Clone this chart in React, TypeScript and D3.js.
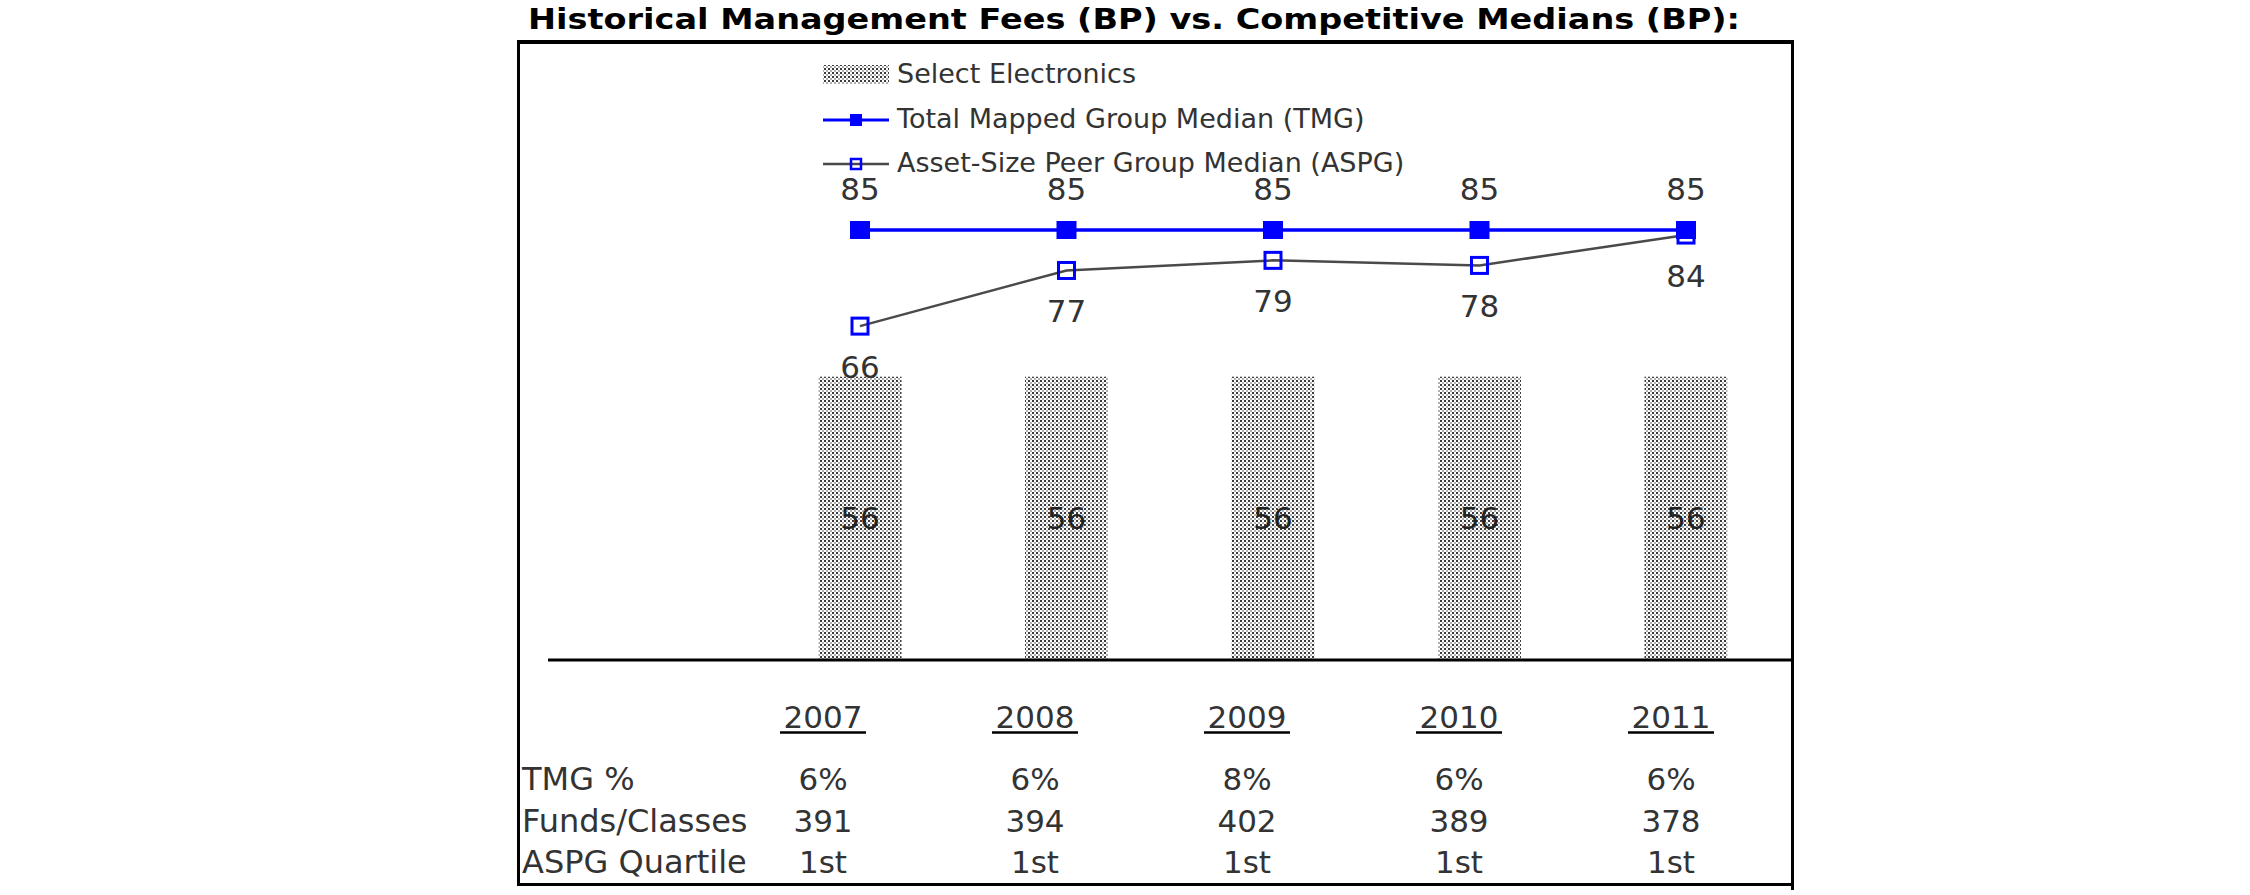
import React from "react";
import * as d3 from "d3";

const years = ["2007", "2008", "2009", "2010", "2011"];
const selectElectronics = [56, 56, 56, 56, 56];
const tmgMedian = [85, 85, 85, 85, 85];
const aspgMedian = [66, 77, 79, 78, 84];
const tmgPct = ["6%", "6%", "8%", "6%", "6%"];
const fundsClasses = ["391", "394", "402", "389", "378"];
const aspgQuartile = ["1st", "1st", "1st", "1st", "1st"];
const rowLabels = ["TMG %", "Funds/Classes", "ASPG Quartile"];
const legendLabels = [
  "Select Electronics",
  "Total Mapped Group Median (TMG)",
  "Asset-Size Peer Group Median (ASPG)",
];
const title = "Historical Management Fees (BP) vs. Competitive Medians (BP):";

const W = 2250;
const H = 895;
const FONT = "'DejaVu Sans', Verdana, sans-serif";
const BLUE = "#0000ff";
const GREY_LINE = "#4a4a4a";
const TEXT = "#333333";

export default function App() {
  const x = d3.scalePoint<string>().domain(years).range([860, 1686]);
  const y = d3.scaleLinear().domain([0, 85]).range([660, 230]);
  const tableX = d3.scalePoint<string>().domain(years).range([823, 1671]);
  const barW = 83;

  const line = d3
    .line<number>()
    .x((_, i) => x(years[i]) as number)
    .y((d) => y(d));

  const tableRows = [tmgPct, fundsClasses, aspgQuartile];
  const rowBase = [790, 832, 873];

  const legendX0 = 823;
  const legendX1 = 889;
  const legendBase = [83, 128, 172];

  return (
    <svg
      width={W}
      height={H}
      style={{ position: "absolute", left: 0, top: 0, background: "#fff" }}
      fontFamily={FONT}
    >
      <defs>
        <pattern id="dots" width={4} height={4} patternUnits="userSpaceOnUse">
          <rect width={4} height={4} fill="#ffffff" />
          <rect x={0} y={0} width={2} height={2} fill="#3c3c3c" />
          <rect x={2} y={2} width={2} height={2} fill="#b0b0b0" />
        </pattern>
      </defs>

      {/* Title */}
      <text
        x={528}
        y={29}
        fontSize={28}
        fontWeight="bold"
        fill="#000"
        textLength={1212}
        lengthAdjust="spacingAndGlyphs"
      >
        {title}
      </text>

      {/* Frame */}
      <line x1={517} x2={1794} y1={42} y2={42} stroke="#000" strokeWidth={4} />
      <line x1={518.5} x2={518.5} y1={40} y2={886} stroke="#000" strokeWidth={3} />
      <line x1={1792.5} x2={1792.5} y1={40} y2={890} stroke="#000" strokeWidth={3} />
      <line x1={517} x2={1794} y1={884.5} y2={884.5} stroke="#000" strokeWidth={3} />

      {/* Bars */}
      {selectElectronics.map((v, i) => (
        <rect
          key={"bar" + i}
          x={(x(years[i]) as number) - barW / 2}
          y={y(v)}
          width={barW}
          height={y(0) - y(v)}
          fill="url(#dots)"
        />
      ))}
      {selectElectronics.map((v, i) => (
        <text
          key={"barl" + i}
          x={x(years[i]) as number}
          y={(y(v) + y(0)) / 2 + 11}
          fontSize={31}
          textAnchor="middle"
          fill="#222"
        >
          {v}
        </text>
      ))}

      {/* Axis baseline */}
      <line x1={548} x2={1792} y1={y(0)} y2={y(0)} stroke="#000" strokeWidth={3} />

      {/* ASPG line */}
      <path d={line(aspgMedian) || ""} fill="none" stroke={GREY_LINE} strokeWidth={2.5} />
      {aspgMedian.map((v, i) => (
        <rect
          key={"am" + i}
          x={(x(years[i]) as number) - 8}
          y={y(v) - 8}
          width={16}
          height={16}
          fill="none"
          stroke={BLUE}
          strokeWidth={3}
        />
      ))}

      {/* TMG line */}
      <path d={line(tmgMedian) || ""} fill="none" stroke={BLUE} strokeWidth={3.5} />
      {tmgMedian.map((v, i) => (
        <rect
          key={"tm" + i}
          x={(x(years[i]) as number) - 10}
          y={y(v) - 9}
          width={20}
          height={18}
          fill={BLUE}
        />
      ))}

      {/* Data labels */}
      {tmgMedian.map((v, i) => (
        <text
          key={"tl" + i}
          x={x(years[i]) as number}
          y={y(v) - 30}
          fontSize={31}
          textAnchor="middle"
          fill={TEXT}
        >
          {v}
        </text>
      ))}
      {aspgMedian.map((v, i) => (
        <text
          key={"al" + i}
          x={x(years[i]) as number}
          y={y(v) + 52}
          fontSize={31}
          textAnchor="middle"
          fill={TEXT}
        >
          {v}
        </text>
      ))}

      {/* Legend */}
      <rect x={legendX0} y={legendBase[0] - 18} width={legendX1 - legendX0} height={19} fill="url(#dots)" />
      <line x1={legendX0} x2={legendX1} y1={legendBase[1] - 8} y2={legendBase[1] - 8} stroke={BLUE} strokeWidth={3} />
      <rect x={(legendX0 + legendX1) / 2 - 6} y={legendBase[1] - 14} width={12} height={12} fill={BLUE} />
      <line x1={legendX0} x2={legendX1} y1={legendBase[2] - 8} y2={legendBase[2] - 8} stroke={GREY_LINE} strokeWidth={2.5} />
      <rect
        x={(legendX0 + legendX1) / 2 - 5}
        y={legendBase[2] - 13}
        width={10}
        height={10}
        fill="none"
        stroke={BLUE}
        strokeWidth={2.5}
      />
      {legendLabels.map((t, i) => (
        <text key={"lg" + i} x={897} y={legendBase[i]} fontSize={27} fill={TEXT}>
          {t}
        </text>
      ))}

      {/* Table */}
      {years.map((yr) => (
        <g key={"yr" + yr}>
          <text x={tableX(yr) as number} y={728} fontSize={31} textAnchor="middle" fill={TEXT}>
            {yr}
          </text>
          <line
            x1={(tableX(yr) as number) - 43}
            x2={(tableX(yr) as number) + 43}
            y1={732.5}
            y2={732.5}
            stroke="#000"
            strokeWidth={2.5}
          />
        </g>
      ))}
      {rowLabels.map((lab, r) => (
        <text key={"rl" + r} x={522} y={rowBase[r]} fontSize={32} fill={TEXT}>
          {lab}
        </text>
      ))}
      {tableRows.map((row, r) =>
        row.map((val, i) => (
          <text
            key={"tv" + r + "_" + i}
            x={tableX(years[i]) as number}
            y={rowBase[r]}
            fontSize={31}
            textAnchor="middle"
            fill={TEXT}
          >
            {val}
          </text>
        ))
      )}
    </svg>
  );
}
